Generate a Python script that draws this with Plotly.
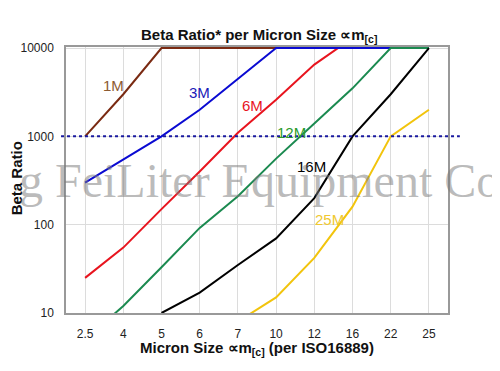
import math
import plotly.graph_objects as go

# ---- data ----
micron_sizes = ["2.5", "4", "5", "6", "7", "10", "12", "16", "22", "25"]
beta_1M = [1000, 3000, 10000, 10000, 10000, 10000, 10000, 10000, 10000, 10000]
beta_6M = [25, 55, 150, 400, 1100, 2600, 6500, 13000, None, None]
beta_3M = [300, 550, 1000, 2000, 4500, 10000, 10000, 10000, 10000, 10000]
beta_12M = [5, 12, 33, 92, 210, 560, 1400, 3500, 10000, 10000]
beta_16M = [None, None, 10, 17, 35, 70, 200, 1000, 3000, 10000]
beta_25M = [None, None, None, None, 8, 15, 42, 160, 1000, 2000]
y_tick_values = [10, 100, 1000, 10000]
y_tick_labels = ["10", "100", "1000", "10000"]
threshold = 1000

series = [
    ("1M", beta_1M, "#7a2a12"),
    ("6M", beta_6M, "#e8141e"),
    ("3M", beta_3M, "#0a0ad2"),
    ("12M", beta_12M, "#1b8a50"),
    ("16M", beta_16M, "#000000"),
    ("25M", beta_25M, "#f2c40c"),
]

fig = go.Figure()
for name, vals, col in series:
    fig.add_trace(go.Scatter(x=micron_sizes, y=vals, mode="lines", name=name,
                             line=dict(color=col, width=2), connectgaps=False,
                             hoverinfo="skip"))

ylo, yhi = 1.0, 4.012
FONT = "Liberation Sans, Arial, sans-serif"

# page body has a default 8px margin -> shift figure by 8px
fig.update_layout(
    width=492, height=363,
    margin=dict(l=55, r=52, t=39, b=58, pad=0),
    paper_bgcolor="white", plot_bgcolor="white",
    showlegend=False,
    font=dict(family=FONT, size=12, color="#222"),
)
fig.update_xaxes(type="category", categoryorder="array", categoryarray=micron_sizes,
                 range=[-0.5, 9.5], showgrid=True, gridcolor="#dcdcdc", gridwidth=1,
                 showline=True, linecolor="#999999", linewidth=1.5, mirror=True,
                 ticks="outside", ticklen=9, tickcolor="rgba(0,0,0,0)",
                 tickfont=dict(size=12, color="#222"), zeroline=False)
fig.update_yaxes(type="log", range=[ylo, yhi], tickvals=y_tick_values, ticktext=y_tick_labels,
                 showgrid=True, gridcolor="#dcdcdc", gridwidth=1,
                 showline=True, linecolor="#999999", linewidth=1.5, mirror=True,
                 ticks="outside", ticklen=8, tickcolor="rgba(0,0,0,0)",
                 tickfont=dict(size=12, color="#222"), zeroline=False)

# dotted threshold line (extends slightly past plot area)
ty = (math.log10(threshold) - ylo) / (yhi - ylo)
fig.add_shape(type="line", xref="paper", yref="paper", x0=-0.013, x1=1.031, y0=ty, y1=ty,
              line=dict(color="#1a1aa0", width=2, dash="dot"), layer="above")

# series labels
labels = [
    ("1M", 0.1247, 0.855, "#8c5a32"),
    ("3M", 0.349, 0.830, "#1a1ab8"),
    ("6M", 0.487, 0.780, "#e8141e"),
    ("12M", 0.590, 0.679, "#2a9a2a"),
    ("16M", 0.642, 0.552, "#000000"),
    ("25M", 0.690, 0.350, "#f0c830"),
]
for t, x, y, c in labels:
    fig.add_annotation(text=t, x=x, y=y, xref="paper", yref="paper", showarrow=False,
                       xanchor="center", yanchor="middle",
                       font=dict(family=FONT, size=15, color=c))

# title
fig.add_annotation(text="<b>Beta Ratio* per Micron Size ∝m<sub>[c]</sub></b>", x=0.505, y=1.044,
                   xref="paper", yref="paper", showarrow=False, xanchor="center", yanchor="middle",
                   font=dict(family=FONT, size=15, color="#111"))
# x title
fig.add_annotation(text="<b>Micron Size ∝m<sub>[c]</sub> (per ISO16889)</b>", x=0.4995, y=-0.133,
                   xref="paper", yref="paper", showarrow=False, xanchor="center", yanchor="middle",
                   font=dict(family=FONT, size=15, color="#111"))
# y title
fig.add_annotation(text="<b>Beta Ratio</b>", x=-0.131, y=0.506, textangle=-90,
                   xref="paper", yref="paper", showarrow=False, xanchor="center", yanchor="middle",
                   font=dict(family=FONT, size=15, color="#111"))

# watermark
fig.add_annotation(text="g FeiLiter Equipment Co.", x=-0.128, y=0.5,
                   xref="paper", yref="paper", showarrow=False, xanchor="left", yanchor="middle",
                   font=dict(family="Liberation Serif, Times New Roman, serif", size=48,
                             color="rgba(120,120,120,0.5)"))

fig.write_html("out.html")
